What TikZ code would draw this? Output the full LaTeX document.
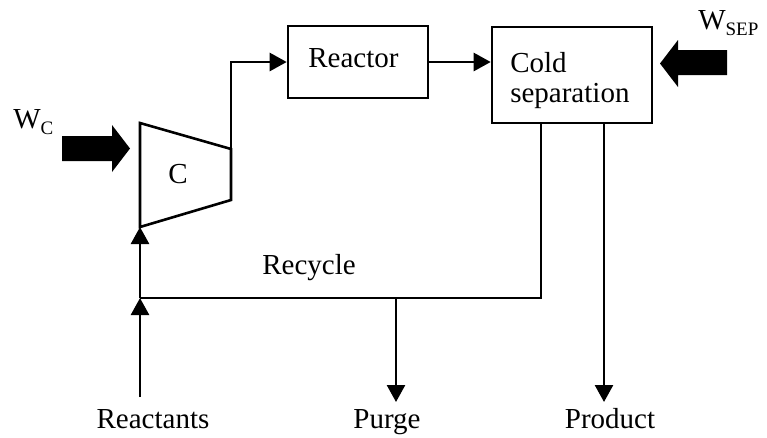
\documentclass[tikz,border=0pt]{standalone}
\usepackage{fontspec}
\setmainfont{Liberation Serif}
\usetikzlibrary{arrows.meta}
\newcommand{\subtxt}[1]{\raisebox{-0.22em}{\fontsize{19}{19}\selectfont #1}}
\begin{document}
\begin{tikzpicture}[x=1pt,y=-1pt,
  line width=2.6pt,
  lbl/.style={font=\fontsize{29}{30}\selectfont, inner sep=0pt, align=left},
  unitbox/.style={draw, line width=2.6pt, inner sep=0pt},
  flow/.style={-{Triangle[length=17pt,width=18pt]}, line width=2.6pt},
  line/.style={line width=2.6pt}]
\useasboundingbox (0,0) rectangle (767,437);
% compressor
\coordinate (cTL) at (140,123);
\coordinate (cTR) at (231,149);
\coordinate (cBR) at (231,200);
\coordinate (cBL) at (140,227);
\draw[line, line join=miter] (cTL) -- (cTR) -- (cBR) -- (cBL) -- cycle;
\node[lbl, anchor=base] (c) at (178,183) {C};
% units
\node[unitbox, minimum width=140pt, minimum height=72pt] (reactor) at (358,62) {};
\node[lbl, anchor=base west] (reactortxt) at (307,67) {Reactor};
\node[unitbox, minimum width=160pt, minimum height=96pt] (sep) at (572,75) {};
\node[lbl, anchor=base west] (septxt) at (509,102) {Cold\\separation};
% work arrows
\fill (62,136) -- (112,136) -- (112,125) -- (130,148.5) -- (112,172) -- (112,161) -- (62,161) -- cycle;
\fill (727,50) -- (678,50) -- (678,40) -- (660,63.5) -- (678,87) -- (678,75) -- (727,75) -- cycle;
\node[lbl, anchor=base west] (wc) at (12,128) {W\subtxt{C}};
\node[lbl, anchor=base west] (wsep) at (697,29) {W\subtxt{SEP}};
% streams
\coordinate (outtop) at (cTR |- reactor.west);
\draw[flow] (cTR) -- (outtop) -- (reactor.west);
\draw[flow] (reactor.east) -- (reactor.east -| sep.west);
\coordinate (sepout1) at (541,123);
\coordinate (rec) at (541,298);
\coordinate (mix) at (140,298);
\coordinate (purgesplit) at (396,298);
\draw[line] (sepout1) -- (rec) -- (mix);
\draw[flow] (mix) -- (cBL);
\node[lbl, anchor=base] (recycle) at (309,274) {Recycle};
\node[lbl, anchor=base] (reactants) at (153,428) {Reactants};
\node[lbl, anchor=base] (purge) at (387,428) {Purge};
\node[lbl, anchor=base] (product) at (610,428) {Product};
\coordinate (rin) at (140,397);
\draw[flow] (rin) -- (mix);
\coordinate (pout) at (396,402);
\draw[flow] (purgesplit) -- (pout);
\coordinate (sepout2) at (604,123);
\coordinate (prodout) at (604,402);
\draw[flow] (sepout2) -- (prodout);
\end{tikzpicture}
\end{document}
